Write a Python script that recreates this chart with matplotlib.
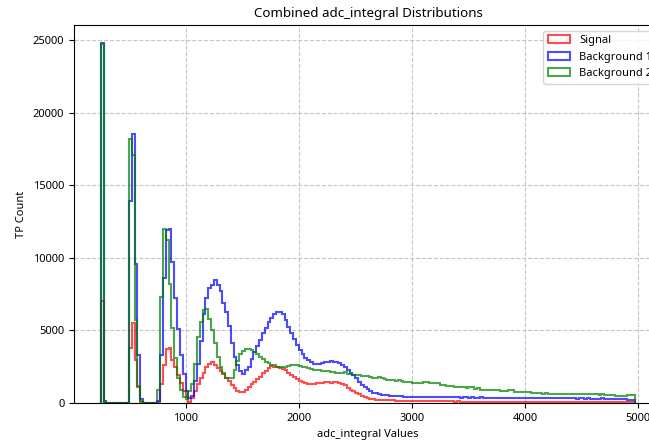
"""Combined adc_integral step histograms for signal and two backgrounds."""

import matplotlib

matplotlib.use("Agg")
import matplotlib.pyplot as plt
import numpy as np

plt.rcParams["font.family"] = ["Noto Sans", "DejaVu Sans"]
plt.rcParams["font.size"] = 8

# histogram binning: 25-unit bins starting at 250
BIN_START = 250
BIN_STOP = 5000
BIN_WIDTH = 25

labels = ["Signal", "Background 1", "Background 2"]
colors = ["red", "blue", "green"]

signal_counts = [
    7000, 30, 0, 0, 0, 0, 0, 0, 0, 0,
    3800, 5500, 2950, 1100, 100, 0, 0, 0, 0, 0,
    50, 1300, 2600, 3700, 3800, 2950, 2450, 1900, 1350, 850,
    400, 100, 350, 800, 1300, 1700, 2100, 2450, 2700, 2800,
    2650, 2400, 2200, 2000, 1700, 1500, 1250, 1000, 850, 770,
    760, 880, 1100, 1340, 1450, 1680, 1800, 2050, 2200, 2400,
    2550, 2500, 2480, 2420, 2350, 2250, 2100, 1950, 1800, 1650,
    1550, 1450, 1380, 1340, 1300, 1290, 1350, 1380, 1400, 1450,
    1420, 1400, 1450, 1440, 1360, 1330, 1220, 1060, 920, 830,
    700, 620, 500, 420, 370, 300, 280, 240, 230, 220,
    200, 190, 185, 180, 150, 150, 145, 140, 150, 140,
    135, 140, 130, 140, 135, 130, 125, 120, 130, 120,
    115, 110, 120, 110, 105, 100, 110, 100, 95, 90,
    100, 90, 85, 90, 80, 85, 80, 90, 80, 75,
    80, 70, 75, 80, 70, 75, 70, 80, 70, 65,
    70, 75, 65, 70, 60, 70, 65, 60, 70, 65,
    60, 65, 60, 70, 60, 55, 60, 65, 55, 60,
    55, 60, 50, 60, 55, 50, 55, 60, 50, 55,
    50, 55, 50, 45, 50, 50, 45, 50, 40,
]

background1_counts = [
    24800, 150, 0, 0, 0, 0, 0, 0, 0, 0,
    13900, 18500, 9600, 3300, 250, 0, 0, 0, 0, 0,
    150, 3300, 8600, 11900, 12000, 9700, 7200, 5100, 3300, 2000,
    800, 350, 500, 1500, 2700, 4300, 6100, 7200, 7900, 8100,
    8450, 8100, 7700, 6900, 6300, 5300, 4100, 3200, 2600, 2200,
    2000, 2250, 2500, 3000, 3500, 3950, 4350, 4800, 5200, 5550,
    5850, 6100, 6300, 6250, 6100, 5700, 5250, 4800, 4400, 4000,
    3650, 3350, 3100, 2950, 2800, 2720, 2700, 2720, 2750, 2800,
    2850, 2870, 2850, 2830, 2750, 2650, 2500, 2300, 2100, 1900,
    1700, 1450, 1250, 1080, 950, 820, 720, 660, 630, 580,
    540, 520, 500, 470, 460, 460, 450, 430, 420, 420,
    410, 420, 400, 410, 400, 400, 410, 390, 400, 400,
    390, 380, 390, 400, 380, 380, 390, 370, 380, 390,
    370, 380, 370, 360, 380, 370, 360, 370, 360, 350,
    370, 360, 350, 360, 350, 350, 360, 340, 350, 340,
    350, 360, 340, 350, 330, 340, 330, 340, 350, 330,
    340, 330, 320, 340, 330, 320, 330, 320, 310, 330,
    320, 310, 320, 300, 310, 310, 300, 320, 300, 310,
    300, 290, 300, 290, 280, 280, 220, 200, 180,
]

background2_counts = [
    24700, 80, 0, 0, 0, 0, 0, 0, 0, 0,
    18200, 17100, 5700, 1200, 150, 0, 0, 0, 0, 0,
    900, 7300, 12000, 11200, 8200, 5200, 3100, 1700, 900, 400,
    300, 800, 1340, 2700, 4550, 5600, 6400, 6500, 5800, 5000,
    4100, 3200, 2500, 2100, 1700, 1700, 1750, 2250, 2900, 3400,
    3600, 3700, 3750, 3650, 3500, 3400, 3200, 3000, 2850, 2750,
    2650, 2600, 2500, 2480, 2450, 2500, 2550, 2600, 2650, 2600,
    2550, 2500, 2450, 2380, 2350, 2300, 2300, 2280, 2220, 2200,
    2180, 2150, 2140, 2080, 2070, 2060, 2130, 2000, 1980, 1920,
    1910, 1900, 1850, 1840, 1830, 1760, 1750, 1740, 1800, 1690,
    1680, 1570, 1560, 1560, 1550, 1560, 1540, 1450, 1460, 1440,
    1400, 1380, 1380, 1350, 1450, 1440, 1400, 1400, 1390, 1350,
    1220, 1230, 1150, 1150, 1140, 1100, 1100, 1090, 1070, 1060,
    1100, 1090, 990, 1000, 920, 930, 920, 910, 920, 880,
    870, 860, 850, 840, 880, 870, 770, 760, 760, 750,
    760, 750, 690, 700, 690, 680, 650, 660, 650, 640,
    650, 640, 650, 600, 610, 600, 590, 600, 600, 590,
    600, 600, 610, 590, 600, 590, 580, 590, 530, 540,
    530, 530, 480, 490, 480, 480, 530, 530, 530,
]


def main() -> None:
    edges = np.arange(BIN_START, BIN_STOP, BIN_WIDTH)
    centers = edges[:-1] + BIN_WIDTH / 2

    fig = plt.figure(figsize=(6.49, 4.44), dpi=100)
    # the source image was cropped on the right, so the axes run past the figure edge
    ax = fig.add_axes([74 / 649, 41 / 444, 588 / 649, 378 / 444])

    series = [signal_counts, background1_counts, background2_counts]
    for counts, label, color in zip(series, labels, colors):
        ax.hist(centers, bins=edges, weights=counts, histtype="step",
                color=color, alpha=0.7, linewidth=1.5, label=label)

    ax.set_title("Combined adc_integral Distributions")
    ax.set_xlabel("adc_integral Values")
    ax.set_ylabel("TP Count")
    ax.legend(loc="upper right")
    ax.grid(True, linestyle="--", alpha=0.7)

    fig.savefig("out.png", dpi=100)
    plt.close(fig)


if __name__ == "__main__":
    main()
